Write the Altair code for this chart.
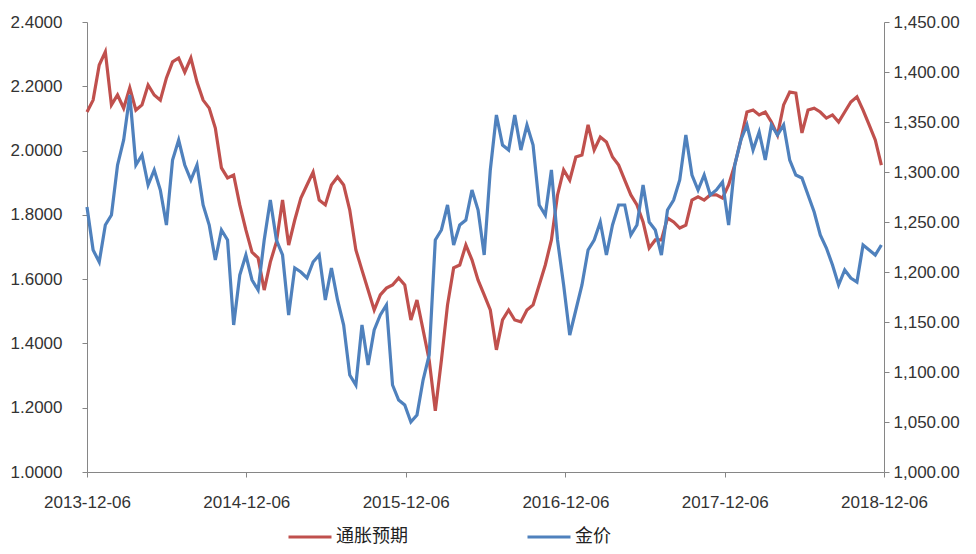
import altair as alt
import pandas as pd

# ---- data (bi-weekly samples) ----
start_date = "2013-12-06"
n_points = 131
dates = pd.date_range(start_date, periods=n_points, freq="14D").strftime("%Y-%m-%d").tolist()

series_names = ["通胀预期", "金价"]
series_colors = ["#C0504D", "#4F81BD"]

inflation = [
    2.120, 2.157, 2.266, 2.307, 2.142, 2.173, 2.132, 2.195, 2.126, 2.142,
    2.204, 2.173, 2.157, 2.226, 2.276, 2.288, 2.244, 2.288, 2.213, 2.157,
    2.132, 2.070, 1.946, 1.915, 1.924, 1.831, 1.753, 1.684, 1.666, 1.566,
    1.653, 1.716, 1.846, 1.706, 1.784, 1.852, 1.893, 1.933, 1.846, 1.831,
    1.893, 1.918, 1.893, 1.815, 1.691, 1.628, 1.566, 1.504, 1.551, 1.572,
    1.582, 1.604, 1.582, 1.473, 1.535, 1.442, 1.348, 1.190, 1.348, 1.520,
    1.635, 1.644, 1.706, 1.660, 1.597, 1.551, 1.504, 1.380, 1.473, 1.504,
    1.473, 1.467, 1.504, 1.520, 1.582, 1.644, 1.722, 1.862, 1.940, 1.908,
    1.980, 1.986, 2.080, 2.002, 2.042, 2.027, 1.980, 1.955, 1.908, 1.862,
    1.831, 1.778, 1.697, 1.722, 1.722, 1.790, 1.778, 1.759, 1.768, 1.846,
    1.856, 1.846, 1.862, 1.862, 1.852, 1.893, 1.955, 2.033, 2.120, 2.126,
    2.111, 2.120, 2.089, 2.048, 2.142, 2.182, 2.179, 2.055, 2.126, 2.132,
    2.120, 2.101, 2.111, 2.089, 2.120, 2.151, 2.167, 2.126, 2.080, 2.033,
    1.955,
]

gold = [
    1265, 1222, 1210, 1247, 1257, 1307, 1332, 1377, 1307, 1317,
    1287, 1302, 1282, 1247, 1312, 1332, 1307, 1292, 1307, 1267,
    1247, 1212, 1242, 1232, 1147, 1197, 1217, 1192, 1182, 1232,
    1272, 1232, 1217, 1157, 1204, 1200, 1194, 1210, 1217, 1172,
    1204, 1172, 1147, 1097, 1087, 1147, 1107, 1142, 1157, 1167,
    1087, 1072, 1067, 1050, 1057, 1092, 1117, 1232, 1242, 1267,
    1227, 1247, 1252, 1282, 1262, 1217, 1302, 1357, 1327, 1322,
    1357, 1322, 1347, 1327, 1267, 1257, 1302, 1232, 1187, 1137,
    1162, 1187, 1222, 1232, 1250, 1217, 1247, 1267, 1267, 1237,
    1247, 1287, 1250, 1242, 1217, 1262, 1272, 1292, 1337, 1297,
    1282, 1297, 1277, 1282, 1290, 1247, 1307, 1332, 1347, 1322,
    1340, 1312, 1347, 1337, 1347, 1312, 1297, 1294, 1277, 1260,
    1237, 1224, 1207, 1187, 1202, 1194, 1190, 1227, 1222, 1217,
    1227,
]

x_tick_labels = ["2013-12-06", "2014-12-06", "2015-12-06",
                 "2016-12-06", "2017-12-06", "2018-12-06"]
left_ticks = [1.0, 1.2, 1.4, 1.6, 1.8, 2.0, 2.2, 2.4]
right_ticks = [1000, 1050, 1100, 1150, 1200, 1250, 1300, 1350, 1400, 1450]

df = pd.DataFrame({
    "date": dates * 2,
    "series": [series_names[0]] * n_points + [series_names[1]] * n_points,
    "value": inflation + gold,
})


def to_dt(s):
    y, m, d = (int(p) for p in s.split("-"))
    return alt.DateTime(year=y, month=m, date=d, utc=True)


x_values = [to_dt(s) for s in x_tick_labels]

axis_common = dict(
    labelFont="Liberation Sans",
    labelFontSize=17,
    labelColor="#333333",
    domainColor="#868686",
    tickColor="#868686",
    tickSize=5,
    grid=False,
    title=None,
)

x_enc = alt.X(
    "date:T",
    scale=alt.Scale(type="utc", domain=[x_values[0], x_values[-1]], nice=False),
    axis=alt.Axis(values=x_values, format="%Y-%m-%d", labelPadding=17,
                  labelAngle=0, labelFlush=False, labelOverlap=False,
                  labelBound=False, **axis_common),
)

color_enc = alt.Color(
    "series:N",
    scale=alt.Scale(domain=series_names, range=series_colors),
    legend=alt.Legend(
        orient="none", legendX=200, legendY=492, direction="horizontal",
        title=None, symbolType="stroke", symbolSize=1849,
        symbolStrokeWidth=3, labelFont="Noto Sans CJK SC", labelFontSize=18,
        labelColor="#222222", labelOffset=3, columnPadding=113,
    ),
)

base = alt.Chart(df)

red = base.transform_filter(alt.datum.series == series_names[0]).mark_line(
    strokeWidth=3.2
).encode(
    x=x_enc,
    y=alt.Y("value:Q",
            scale=alt.Scale(domain=[left_ticks[0], left_ticks[-1]], nice=False, zero=False),
            axis=alt.Axis(values=left_ticks, format=".4f", orient="left",
                          labelPadding=20, **axis_common)),
    color=color_enc,
)

blue = base.transform_filter(alt.datum.series == series_names[1]).mark_line(
    strokeWidth=3.2
).encode(
    x=x_enc,
    y=alt.Y("value:Q",
            scale=alt.Scale(domain=[right_ticks[0], right_ticks[-1]], nice=False, zero=False),
            axis=alt.Axis(values=right_ticks, format=",.2f", orient="right",
                          labelPadding=4, **axis_common)),
    color=color_enc,
)

chart = alt.layer(red, blue).resolve_scale(y="independent").properties(
    width=797,
    height=450,
    autosize=alt.AutoSizeParams(type="none"),
    padding={"left": 79, "top": 14, "right": 84, "bottom": 74},
    background="white",
).configure_view(stroke=None)

chart.save("out.html", embed_options={"renderer": "svg", "actions": False})
